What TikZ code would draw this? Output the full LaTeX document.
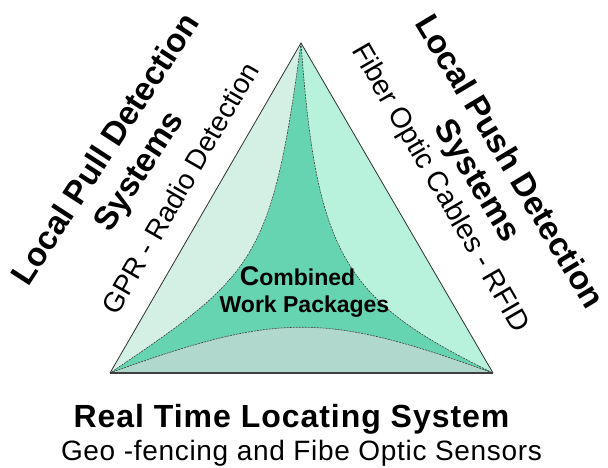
\documentclass[tikz,border=0pt]{standalone}
\usepackage{fontspec}
\setmainfont{Liberation Sans}
\definecolor{coreFill}{HTML}{66D4B0}
\definecolor{pullFill}{HTML}{D4F0E4}
\definecolor{pushFill}{HTML}{B8F2DC}
\definecolor{rtlsFill}{HTML}{B0D8CC}
\begin{document}
\begin{tikzpicture}[x=1pt,y=-1pt,
  edge/.style={draw=black!80, line width=0.8pt},
  baseedge/.style={draw=black!75, line width=1.8pt},
  seam/.style={draw=black!75, line width=0.6pt, dash pattern=on 2pt off 1pt},
  title/.style={font=\fontsize{33}{40}\selectfont\bfseries, align=center, inner sep=0pt},
  subtitle/.style={font=\fontsize{28}{34}\selectfont, inner sep=0pt},
  core/.style={font=\fontsize{23}{27}\selectfont\bfseries, inner sep=0pt, anchor=base},
]
\useasboundingbox (0,0) rectangle (608,467);
\fill[white] (0,0) rectangle (608,467);

% corners of the triangle
\coordinate (A) at (301,43);
\coordinate (B) at (110,373);
\coordinate (C) at (493,373);

% centre area first, the three side bands on top of it
\fill[coreFill] (A) -- (B) -- (C) -- cycle;
\fill[pullFill] (A) -- (B) .. controls (255,275.2) and (271.7,261) .. (A) -- cycle;
\fill[pushFill] (A) -- (C) .. controls (344.8,300.4) and (316.5,257.4) .. (A) -- cycle;
\fill[rtlsFill] (B) -- (C) .. controls (325,312) and (278,312) .. (B) -- cycle;

% dashed seams between the bands and the centre
\draw[seam] (A) .. controls (271.7,261) and (255,275.2) .. (B);
\draw[seam] (A) .. controls (316.5,257.4) and (344.8,300.4) .. (C);
\draw[seam] (B) .. controls (278,312) and (325,312) .. (C);

% outline
\draw[edge] (B) -- (A) -- (C);
\draw[baseedge] (B) -- (C);

% side labels
\node[title, rotate=57] (pull) at (124,161) {Local Pull Detection\\Systems};
\node[subtitle, rotate=60] (gpr) at (180,188) {GPR - Radio Detection};
\node[title, rotate=-59, font=\fontsize{33}{37}\selectfont\bfseries] (push) at (492,172) {Local Push Detection\\Systems};
\node[subtitle, rotate=-60, font=\fontsize{28.5}{34}\selectfont] (fiber) at (439.5,188.5) {Fiber Optic Cables - RFID};

% centre label
\node[core] (comb) at (297.5,285) {{\fontsize{27}{27}\selectfont C}ombined};
\node[core] (work) at (304.5,312) {Work Packages};

% bottom label
\node[anchor=base, inner sep=0pt, font=\fontsize{32}{38}\selectfont\bfseries\addfontfeature{LetterSpace=3}] (rtls) at (291.5,427) {Real Time Locating System};
\node[anchor=base, inner sep=0pt, font=\fontsize{28}{34}\selectfont\addfontfeature{LetterSpace=2.5}] (geo) at (301.5,460) {Geo -fencing and Fibe Optic Sensors};
\end{tikzpicture}
\end{document}
